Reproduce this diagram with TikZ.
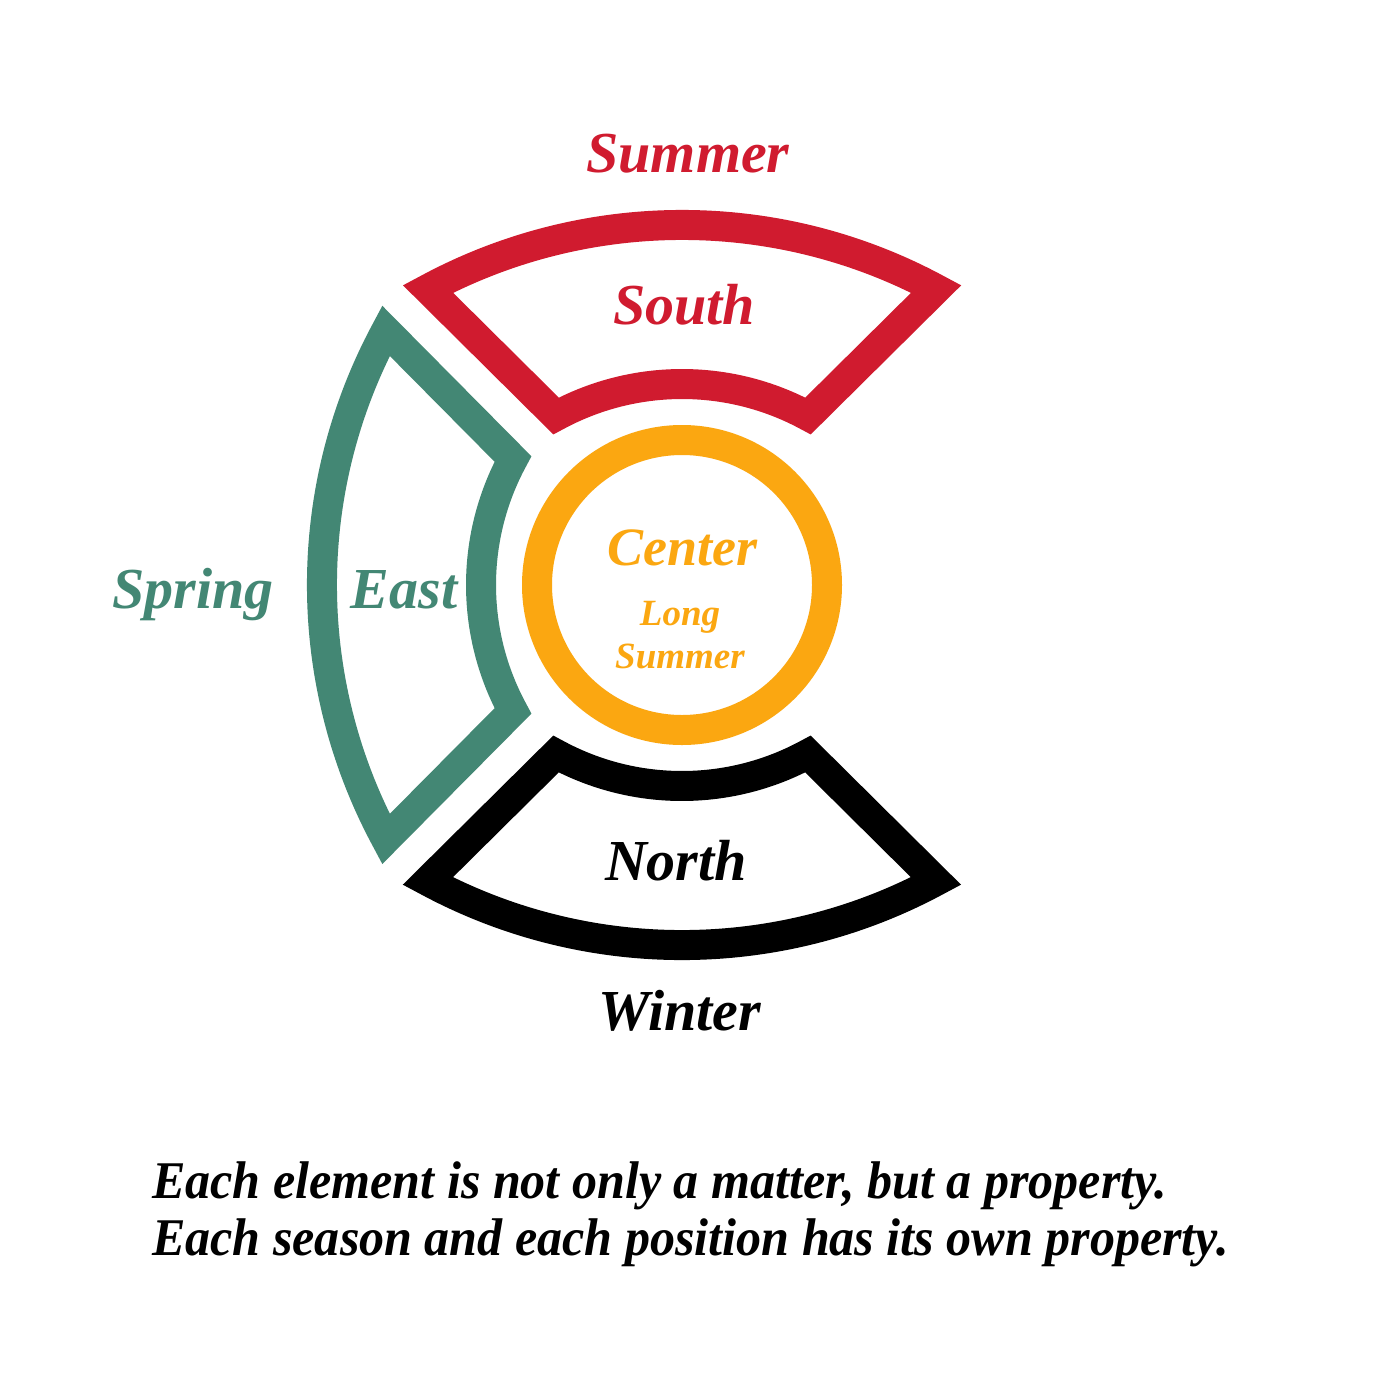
\documentclass[tikz,border=0pt]{standalone}
\usepackage{fontspec}
\setmainfont{Liberation Serif}
\definecolor{sred}{HTML}{D01B2F}
\definecolor{sgreen}{HTML}{438774}
\definecolor{sorange}{HTML}{FBA711}
\begin{document}
\begin{tikzpicture}[x=1pt,y=-1pt,
  sector/.style={line width=30pt, line join=miter, miter limit=10},
  lab/.style={font=\fontsize{58}{60}\selectfont\bfseries\itshape, anchor=base, inner sep=0pt},
  small/.style={font=\fontsize{37}{40}\selectfont\bfseries\itshape, anchor=base, inner sep=0pt, text=sorange},
  note/.style={font=\fontsize{53}{57}\selectfont\bfseries\itshape, anchor=base west, inner sep=0pt}]
\useasboundingbox[fill=white] (0,0) rectangle (1400,1400);
% sectors: south (red), east (green), north (black)
\foreach \r/\c in {0/sred, 90/sgreen, 180/black}{
  \draw[sector, draw=\c, shift={(682,585)}, rotate=\r]
    (-254,-296) arc[start angle=-118.3, end angle=-61.7, radius=536]
    -- (126,-169) arc[start angle=-61.5, end angle=-118.5, radius=264] -- cycle;
}
\node[circle, draw=sorange, line width=30pt, minimum size=290pt, inner sep=0pt] (ctr) at (682,585) {};
% labels
\node[lab, text=sred] (summer) at (688,172) {Summer};
\node[lab, text=sred] (south) at (684,324) {South};
\node[lab, text=sgreen] (spring) at (193,608) {Spring};
\node[lab, text=sgreen] (east) at (404,608) {East};
\node[lab, text=sorange, font=\fontsize{54}{56}\selectfont\bfseries\itshape] (center) at (682,565) {Center};
\node[small] (long) at (680,625) {Long};
\node[small] (lsummer) at (680,668) {Summer};
\node[lab, text=black] (north) at (676,880) {North};
\node[lab, text=black] (winter) at (680,1030) {Winter};
\node[note] (l1) at (152,1198) {\scalebox{0.945}[1]{Each element is not only a matter, but a property.}};
\node[note] (l2) at (152,1255) {\scalebox{0.945}[1]{Each season and each position has its own property.}};
\end{tikzpicture}
\end{document}
